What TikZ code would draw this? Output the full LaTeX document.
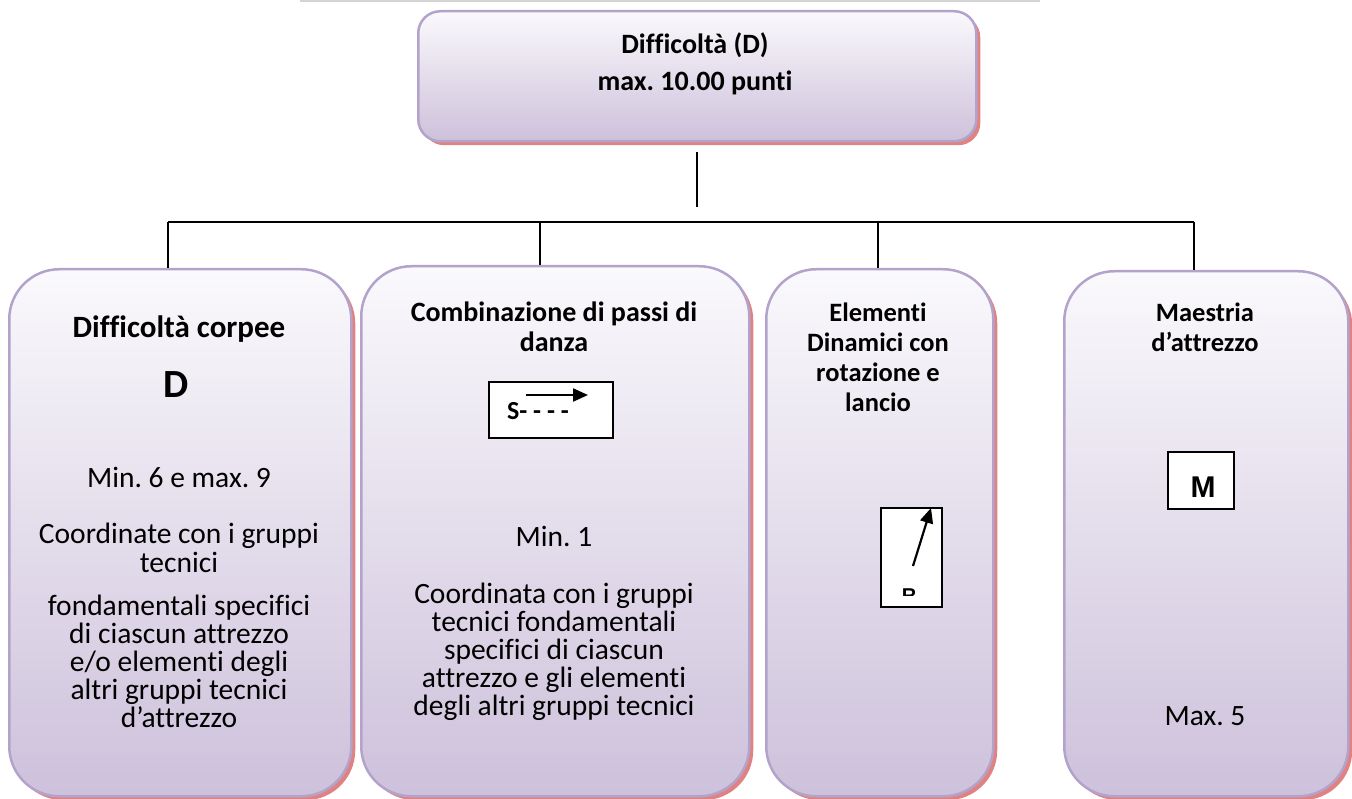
\documentclass[tikz,border=0pt]{standalone}
\usepackage{fontspec}
\setmainfont{Carlito}[Ligatures={NoCommon}]
\newfontfamily\arialf{Liberation Sans}
\usetikzlibrary{shadows,arrows.meta}
\definecolor{boxtop}{HTML}{FAF9FC}
\definecolor{boxbot}{HTML}{CDC1DB}
\definecolor{boxline}{HTML}{B3A3CB}
\definecolor{shadowred}{HTML}{E08282}
\definecolor{topline}{HTML}{D4D4D4}
\frenchspacing
\begin{document}
\begin{tikzpicture}[x=1pt,y=-1pt,
  panel/.style={draw=boxline, line width=2.5pt, top color=boxtop, bottom color=boxbot,
    rounded corners=50pt, anchor=north west, inner sep=0pt,
    general shadow={fill=shadowred, shadow xshift=4pt, shadow yshift=-4pt}},
  toppanel/.style={panel, rounded corners=22pt},
  conn/.style={line width=1.5pt, black},
  ttl/.style={font=\fontsize{28}{28}\selectfont\bfseries, anchor=base, inner sep=0pt},
  sttl/.style={font=\fontsize{26.5}{28}\selectfont\bfseries, anchor=base, inner sep=0pt},
  txt/.style={font=\fontsize{29.5}{28}\selectfont, anchor=base, inner sep=0pt},
  symbox/.style={draw=black, line width=2pt, fill=white, anchor=north west, inner sep=0pt},
  symarrow/.style={line width=2.2pt, -{Triangle[length=15pt,width=13pt]}}
]
\useasboundingbox (0,0) rectangle (1352,799);
% faint top rule
\coordinate (tl1) at (300,1.5);
\coordinate (tl2) at (1040,1.5);
\draw[topline, line width=2pt] (tl1) -- (tl2);

% connectors
\coordinate (vtop) at (697,152);
\coordinate (vbot) at (697,207);
\coordinate (hl) at (168,222);
\coordinate (h2) at (540,222);
\coordinate (h3) at (878,222);
\coordinate (hr) at (1194,222);
\draw[conn] (vtop) -- (vbot);
\draw[conn] (hl) -- (hr);

% boxes
\node[toppanel, minimum width=558pt, minimum height=130pt] (top) at (417,10) {};
\node[panel, minimum width=342pt, minimum height=527pt] (b1) at (8,268) {};
\node[panel, minimum width=388pt, minimum height=530pt] (b2) at (360,265) {};
\node[panel, minimum width=227pt, minimum height=527pt] (b3) at (765,268) {};
\node[panel, minimum width=284pt, minimum height=525pt] (b4) at (1063,270) {};

\draw[conn] (hl) -- (hl |- b1.north);
\draw[conn] (h2) -- (h2 |- b2.north);
\draw[conn] (h3) -- (h3 |- b3.north);
\draw[conn] (hr) -- (hr |- b4.north);

% top texts
\node[ttl] (t1) at (695,54) {Difficoltà (D)};
\node[ttl] (t2) at (695,91) {max. 10.00 punti};

% box 1
\node[ttl, font=\fontsize{31}{31}\selectfont\bfseries] (a1) at (179,338) {Difficoltà corpee};
\node[font=\fontsize{40}{40}\selectfont\bfseries, anchor=base, inner sep=0pt] (a2) at (176,398) {D};
\node[txt] (a3) at (179,487) {Min. 6 e max. 9};
\node[txt] (a4) at (179,543) {Coordinate con i gruppi};
\node[txt] (a5) at (179,572) {tecnici};
\node[txt] (a6) at (179,615) {fondamentali specifici};
\node[txt] (a7) at (179,643) {di ciascun attrezzo};
\node[txt] (a8) at (179,671) {e/o elementi degli};
\node[txt] (a9) at (179,699) {altri gruppi tecnici};
\node[txt] (a10) at (179,727) {d’attrezzo};

% box 2
\node[ttl] (c1) at (554,322) {Combinazione di passi di};
\node[ttl] (c2) at (554,352) {danza};
\node[symbox, minimum width=124pt, minimum height=56pt] (sbox) at (488,381) {};
\draw[symarrow] (526,395) -- (588,395);
\node[font=\fontsize{26}{26}\selectfont\bfseries, anchor=base west, inner sep=0pt] (sym) at (507,420) {S- - - -};
\node[txt] (c3) at (554,546) {Min. 1};
\node[txt] (c4) at (554,603) {Coordinata con i gruppi};
\node[txt] (c5) at (554,631) {tecnici fondamentali};
\node[txt] (c6) at (554,659) {specifici di ciascun};
\node[txt] (c7) at (554,687) {attrezzo e gli elementi};
\node[txt] (c8) at (554,715) {degli altri gruppi tecnici};

% box 3
\node[sttl] (e1) at (878,322) {Elementi};
\node[sttl] (e2) at (878,352) {Dinamici con};
\node[sttl] (e3) at (878,382) {rotazione e};
\node[sttl] (e4) at (878,412) {lancio};
\node[symbox, minimum width=61pt, minimum height=99pt] (rbox) at (880,507) {};
\draw[symarrow] (913,566) -- (931,508);
\begin{scope}
  \clip (880,507) rectangle (941,595);
  \node[font=\fontsize{20}{20}\selectfont\arialf\bfseries, anchor=base, inner sep=0pt] (rsym) at (909,602) {R};
\end{scope}

% box 4
\node[sttl] (m1) at (1205,322) {Maestria};
\node[sttl] (m2) at (1205,352) {d’attrezzo};
\node[symbox, minimum width=66pt, minimum height=57pt] (mbox) at (1167,451) {};
\node[font=\fontsize{30}{30}\selectfont\arialf\bfseries, anchor=base, inner sep=0pt] (msym) at (1203,497) {M};
\node[txt] (m3) at (1205,725) {Max. 5};
\end{tikzpicture}
\end{document}
